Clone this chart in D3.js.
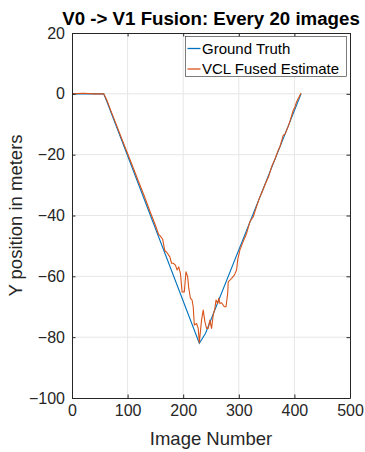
<!DOCTYPE html>
<html>
<head>
<meta charset="utf-8">
<script src="https://cdn.jsdelivr.net/npm/d3@7"></script>
<style>
  html, body { margin: 0; padding: 0; background: #fff; }
  svg { display: block; font-family: "Liberation Sans", Arial, Helvetica, sans-serif; }
</style>
</head>
<body>
<svg id="chart" width="365" height="452"></svg>
<script>
// ---- data ----
const titleText = "V0 -> V1 Fusion: Every 20 images";
const xLabel = "Image Number";
const yLabel = "Y position in meters";
const seriesNames = ["Ground Truth", "VCL Fused Estimate"];

const xTicks = [0, 100, 200, 300, 400, 500];
const yTicks = [20, 0, -20, -40, -60, -80, -100];

const truthImage = [0, 57, 62, 229, 240, 412];
const truthY     = [0, 0, -2.2, -82, -78.8, 0];

const fusedImage = [0, 20, 40, 57, 62, 70, 80, 90, 100, 110, 120, 130, 140, 150, 156, 159, 163, 167, 170,
  176, 179, 182, 186, 189, 192, 195, 198, 202, 205, 208, 210, 213, 216, 218, 220, 224, 227, 229,
  233, 236, 239, 242, 245, 248, 251, 254, 257, 259, 262, 264, 266, 269, 274, 277, 280, 281, 287,
  292, 296, 298, 302, 308, 314, 320, 326, 332, 338, 341, 348, 354, 359, 365, 371, 374, 380, 383,
  390, 398, 401, 404, 412];
const fusedY = [0, 0.2, 0, 0, -1.8, -5.6, -10.3, -15, -19.6, -24.3, -29, -33.6, -38.5, -43.2, -46.3, -46.8, -47.8, -51.6, -52,
  -53.6, -55.7, -55.7, -56.3, -57.9, -56.9, -59, -65.1, -65.1, -58.5, -60.1, -63.9, -67.2, -67.8, -70, -76, -75.5, -77.1, -81.8,
  -74.4, -71.1, -74.9, -77.1, -77.1, -74.4, -77.1, -72.7, -70.5, -67.8, -68.9, -67.2, -68.9, -68.7, -70, -70, -65.6, -61.8, -60.7,
  -59.6, -57.9, -54.6, -51.3, -48.5, -45.9, -42, -40.4, -37, -33.8, -32.7, -29.5, -27, -24, -21.5, -18.5, -17.4, -13.6, -13.3,
  -10.2, -5.4, -4.3, -2.6, 0.3];

// ---- layout ----
const svg = d3.select("#chart");
const mLeft = 72, mRight = 350, mTop = 33, mBottom = 398;
const x = d3.scaleLinear().domain([0, 500]).range([mLeft, mRight]);
const y = d3.scaleLinear().domain([-100, 20]).range([mBottom, mTop]);
const axisColor = "#262626";
const tickLen = 3.5;

// grid
const grid = svg.append("g");
grid.selectAll("line.gx").data(xTicks.slice(1, -1)).enter().append("line")
  .attr("x1", d => x(d)).attr("x2", d => x(d)).attr("y1", mTop).attr("y2", mBottom)
  .attr("stroke", "#e6e6e6").attr("stroke-width", 1);
grid.selectAll("line.gy").data(yTicks.slice(1, -1)).enter().append("line")
  .attr("y1", d => y(d)).attr("y2", d => y(d)).attr("x1", mLeft).attr("x2", mRight)
  .attr("stroke", "#e6e6e6").attr("stroke-width", 1);

// lines
const truth = truthImage.map((d, i) => [d, truthY[i]]);
const fused = fusedImage.map((d, i) => [d, fusedY[i]]);
const line = d3.line().x(d => x(d[0])).y(d => y(d[1]));
svg.append("path").attr("d", line(truth)).attr("fill", "none")
  .attr("stroke", "#0072BD").attr("stroke-width", 1.1);
svg.append("path").attr("d", line(fused)).attr("fill", "none")
  .attr("stroke", "#D95319").attr("stroke-width", 1.1).attr("stroke-linejoin", "round");

// axes (MATLAB style, ticks inside, box on)
const xAxisB = d3.axisBottom(x).tickValues(xTicks).tickSizeInner(-tickLen).tickSizeOuter(0).tickPadding(7);
const xAxisT = d3.axisTop(x).tickValues(xTicks).tickSizeInner(-tickLen).tickSizeOuter(0).tickFormat("");
const yAxisL = d3.axisLeft(y).tickValues(yTicks).tickSizeInner(-tickLen).tickSizeOuter(0).tickPadding(7);
const yAxisR = d3.axisRight(y).tickValues(yTicks).tickSizeInner(-tickLen).tickSizeOuter(0).tickFormat("");

function style(g) {
  g.selectAll("path.domain").attr("stroke", axisColor).attr("stroke-width", 1);
  g.selectAll(".tick line").attr("stroke", axisColor).attr("stroke-width", 1);
  g.selectAll(".tick text").attr("fill", axisColor).style("font-size", "16px")
    .style("font-family", "'Liberation Sans', Arial, sans-serif");
}
svg.append("g").attr("transform", `translate(0,${mBottom})`).call(xAxisB).call(style);
svg.append("g").attr("transform", `translate(0,${mTop})`).call(xAxisT).call(style);
svg.append("g").attr("transform", `translate(${mLeft},0)`).call(yAxisL).call(style);
svg.append("g").attr("transform", `translate(${mRight},0)`).call(yAxisR).call(style);

// title & labels
svg.append("text").attr("x", (mLeft + mRight) / 2).attr("y", 25).attr("text-anchor", "middle")
  .attr("fill", "#000").style("font-weight", "bold").style("font-size", "18.7px").text(titleText);
svg.append("text").attr("x", (mLeft + mRight) / 2).attr("y", 445).attr("text-anchor", "middle")
  .attr("fill", axisColor).style("font-size", "18.5px").text(xLabel);
svg.append("text").attr("transform", `translate(22,${(mTop + mBottom) / 2}) rotate(-90)`)
  .attr("text-anchor", "middle").attr("fill", axisColor).style("font-size", "18.5px").text(yLabel);

// legend
const lg = svg.append("g");
lg.append("rect").attr("x", 185.5).attr("y", 36.5).attr("width", 161).attr("height", 40)
  .attr("fill", "#fff").attr("stroke", axisColor).attr("stroke-width", 0.6);
const colors = ["#0072BD", "#D95319"];
seriesNames.forEach((name, i) => {
  const yy = 48.5 + i * 20.5;
  lg.append("line").attr("x1", 187.5).attr("x2", 200.5).attr("y1", yy).attr("y2", yy)
    .attr("stroke", colors[i]).attr("stroke-width", 1.3);
  lg.append("text").attr("x", 202).attr("y", yy + 5).attr("fill", "#000")
    .style("font-size", "15px").text(name);
});
</script>
</body>
</html>
